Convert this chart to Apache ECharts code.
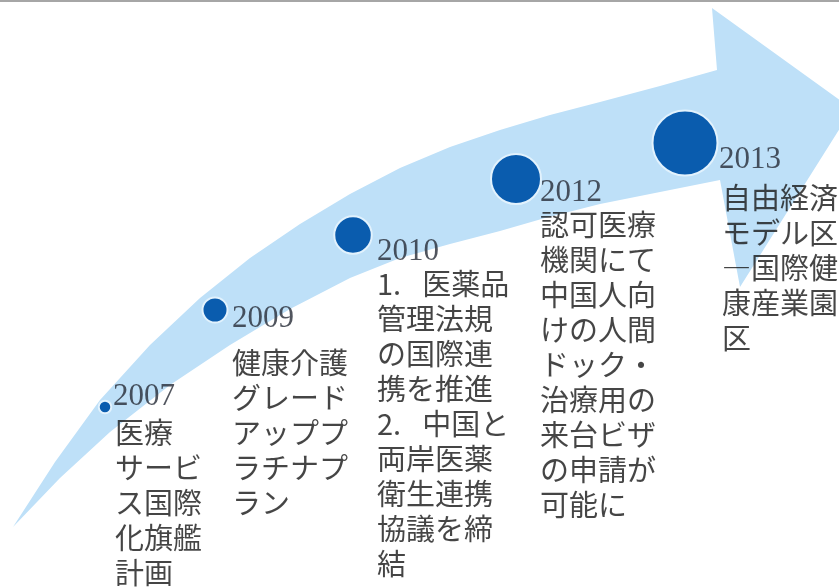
<!DOCTYPE html>
<html>
<head>
<meta charset="utf-8">
<title>台湾の医療・健康産業政策の歩み</title>
<script src="https://cdn.jsdelivr.net/npm/echarts@6/dist/echarts.min.js"></script>
<style>
  html, body { margin: 0; padding: 0; background: #ffffff; }
  #chart { width: 839px; height: 587px; }
</style>
</head>
<body>
<div id="chart"></div>
<script>
// Milestones along the timeline
const years = ['2007', '2009', '2010', '2012', '2013'];
const notes = [
  ['医療', 'サービ', 'ス国際', '化旗艦', '計画'],
  ['健康介護', 'グレード', 'アッププ', 'ラチナプ', 'ラン'],
  ['1. \u2002医薬品', '管理法規', 'の国際連', '携を推進', '2. \u2002中国と', '両岸医薬', '衛生連携', '協議を締', '結'],
  ['認可医療', '機関にて', '中国人向', 'けの人間', 'ドック・', '治療用の', '来台ビザ', 'の申請が', '可能に'],
  ['自由経済', 'モデル区', '―国際健', '康産業園', '区']
];
// Marker weight of each milestone (grows along the arrow)
const markerWeight = [1, 2, 3, 4, 5.2];

// Layout of the diagram, in canvas units
const dotPos  = [[105, 407], [215, 310], [353, 235], [516, 179], [685, 143]];
const yearPos = [[113, 397], [232, 319], [377, 252], [540, 193], [719, 160]];
const notePos = [[115, 433], [232, 363], [377, 284], [540, 225], [722, 198]];
const arrowUpper = [[13, 527], [55, 462], [100, 400], [150, 345], [200, 298], [250, 258], [300, 224],
  [350, 194], [400, 168], [450, 147], [500, 130], [550, 115], [600, 102], [660, 86], [717, 70]];
const arrowHead = [[712, 8], [852, 109], [740, 287]];
const arrowLower = [[720, 180], [660, 192], [600, 204], [545, 218], [500, 231], [450, 244], [400, 258],
  [350, 278], [290, 309], [230, 345], [170, 385], [110, 432], [60, 478]];

const LINE_H = 35;
const outline = arrowUpper.concat(arrowHead, arrowLower);

const chart = echarts.init(document.getElementById('chart'), null, { renderer: 'canvas' });

chart.setOption({
  animation: false,
  backgroundColor: '#ffffff',
  grid: { left: 0, right: 0, top: 0, bottom: 0 },
  xAxis: { type: 'value', min: 0, max: 839, show: false },
  yAxis: { type: 'value', min: 0, max: 587, inverse: true, show: false },
  graphic: [{
    type: 'line',
    shape: { x1: 0, y1: 1, x2: 839, y2: 1 },
    style: { stroke: '#a6a6a6', lineWidth: 2 },
    silent: true
  }],
  series: [
    {
      // sweeping arrow
      type: 'custom',
      silent: true,
      z: 1,
      data: [0],
      renderItem: function (params, api) {
        const pts = outline.map(function (p) { return api.coord(p); });
        return {
          type: 'polygon',
          shape: { points: pts },
          style: { fill: '#bee0f8', stroke: 'none' }
        };
      }
    },
    {
      // milestone markers
      type: 'scatter',
      silent: true,
      z: 3,
      symbol: 'circle',
      data: dotPos.map(function (p, i) {
        return { value: p, symbolSize: 12.5 * markerWeight[i] };
      }),
      itemStyle: { color: '#0a5cae', borderColor: '#e2f2fd', borderWidth: 2, opacity: 1 }
    },
    {
      // year captions
      type: 'scatter',
      silent: true,
      z: 4,
      symbolSize: 0,
      data: yearPos.map(function (p, i) { return { value: p, name: years[i] }; }),
      label: {
        show: true,
        position: 'inside',
        align: 'left',
        verticalAlign: 'middle',
        formatter: function (p) { return p.name; },
        fontFamily: '"Liberation Serif", "DejaVu Serif", serif',
        fontSize: 31,
        color: '#262a36'
      }
    },
    {
      // descriptions
      type: 'scatter',
      silent: true,
      z: 4,
      symbolSize: 0,
      data: notePos.map(function (p, i) {
        return { value: [p[0], p[1] - LINE_H / 2], name: notes[i].join('\n') };
      }),
      label: {
        show: true,
        position: 'inside',
        align: 'left',
        verticalAlign: 'top',
        formatter: function (p) { return p.name; },
        fontFamily: '"Noto Sans CJK JP", "Noto Sans", sans-serif',
        fontSize: 29,
        lineHeight: LINE_H,
        color: '#161616'
      }
    }
  ]
});
</script>
</body>
</html>
